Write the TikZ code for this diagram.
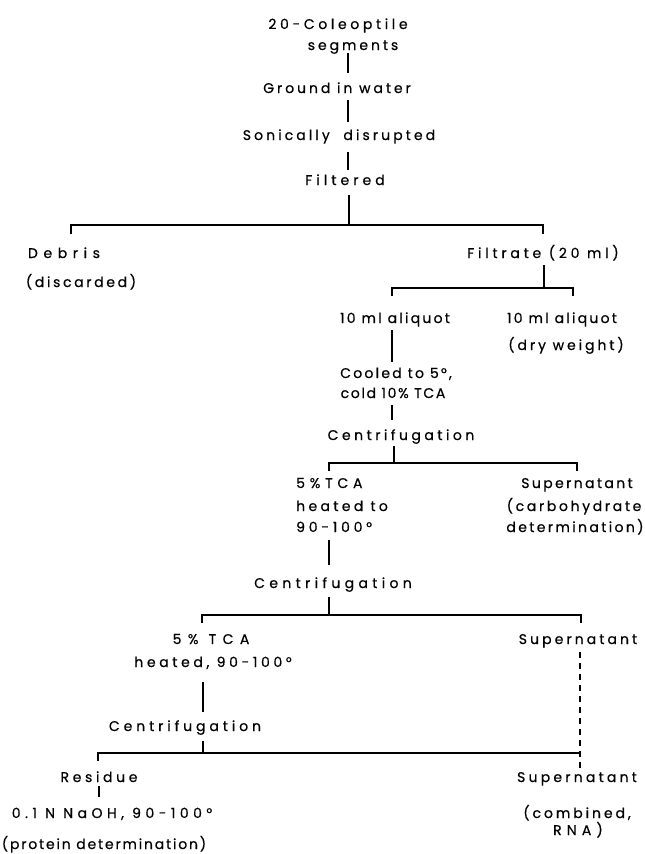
\documentclass[tikz,border=0pt]{standalone}
\usepackage{fontspec}
\setmainfont{Poppins}[FakeBold=0.6]
\newcommand{\fsz}{\fontsize{14}{16}\selectfont}
\begin{document}
\begin{tikzpicture}[x=1pt,y=-1pt,
  lbl/.style={inner sep=0pt, anchor=base, font=\fsz\addfontfeature{LetterSpace=#1}},
  lbl/.default=20,
  lblw/.style={lbl=#1, anchor=base west},
  conn/.style={line width=1.3pt},
  dconn/.style={line width=1.1pt, dash pattern=on 6pt off 5pt}]
\useasboundingbox (0,0) rectangle (645,854);
% texts
\node[lbl=26] (coleo) at (338,29) {20-Coleoptile};
\node[lbl=21] (seg) at (353,50) {segments};
\node[lbl=21] (ground) at (337,93) {Ground in water};
\node[lbl=22] (sonic) at (339,140) {Sonically\ \ disrupted};
\node[lbl=29] (filt) at (345,185) {Filtered};
\node[lbl=40] (debris) at (64,258) {Debris};
\node[lbl=19] (disc) at (81,287) {(discarded)};
\node[lbl=27] (filtrate) at (543,258) {Filtrate (20 ml)};
\node[lbl=16] (aliq1) at (395,323) {10 ml aliquot};
\node[lbl=16] (aliq2) at (562,323) {10 ml aliquot};
\node[lbl=21] (dry) at (566,350) {(dry weight)};
\node[lbl=16] (cooled) at (396,378) {Cooled to 5°,};
\node[lbl=12] (cold) at (393,398) {cold 10\% TCA};
\node[lbl=25] (cen1) at (401,440) {Centrifugation};
\node[lblw=34] (tca1) at (296,488) {5\%TCA};
\node[lblw=24] (heat1) at (296,511) {heated to};
\node[lblw=27] (deg1) at (296,532) {90-100°};
\node[lbl=17] (sup1) at (577,488) {Supernatant};
\node[lbl=19] (carbo) at (574,511) {(carbohydrate};
\node[lbl=17] (determ) at (575,532) {determination)};
\node[lbl=31] (cen2) at (333,588) {Centrifugation};
\node[lbl=46] (tca2) at (211,644) {5\% TCA};
\node[lbl=22] (sup2) at (578,644) {Supernatant};
\node[lbl=26] (heat2) at (213,667) {heated, 90-100°};
\node[lbl=28] (cen3) at (185,731) {Centrifugation};
\node[lbl=26] (resid) at (99,782) {Residue};
\node[lbl=32] (naoh) at (112,818) {0.1 N NaOH, 90-100°};
\node[lbl=13] (prot) at (104,849) {(protein determination)};
\node[lbl=23] (sup3) at (577,782) {Supernatant};
\node[lbl=21] (comb) at (577,818) {(combined,};
\node[lbl=37] (rna) at (578,835) {RNA)};
% junction coordinates
\coordinate (a1) at (348,53); \coordinate (a2) at (348,73);
\coordinate (b1) at (348,100); \coordinate (b2) at (348,122);
\coordinate (c1) at (348,152); \coordinate (c2) at (348,170);
\coordinate (d1) at (349,195); \coordinate (d2) at (349,225);
\coordinate (dl) at (71,225); \coordinate (dlt) at (71,234);
\coordinate (dr) at (543,225); \coordinate (drt) at (543,234);
\coordinate (e1) at (544,265); \coordinate (e2) at (544,288);
\coordinate (el) at (392,288); \coordinate (elt) at (392,296);
\coordinate (er) at (573,288); \coordinate (ert) at (573,296);
\coordinate (f1) at (392,330); \coordinate (f2) at (392,362);
\coordinate (g1) at (392,405); \coordinate (g2) at (392,420);
\coordinate (h1) at (394,446); \coordinate (h2) at (394,463);
\coordinate (hl) at (329,463); \coordinate (hlt) at (329,471);
\coordinate (hr) at (577,463); \coordinate (hrt) at (577,471);
\coordinate (i1) at (329,540); \coordinate (i2) at (329,565);
\coordinate (j1) at (329,597); \coordinate (j2) at (329,615);
\coordinate (jl) at (202,615); \coordinate (jlt) at (202,623);
\coordinate (jr) at (581,615); \coordinate (jrt) at (581,623);
\coordinate (k1) at (203,682); \coordinate (k2) at (203,712);
\coordinate (l1) at (203,741); \coordinate (l2) at (203,753);
\coordinate (ll) at (98,753); \coordinate (llt) at (98,761);
\coordinate (lr) at (580,753);
\coordinate (m1) at (580,652); \coordinate (m2) at (580,770);
\coordinate (n1) at (99,786); \coordinate (n2) at (99,797);
% connectors
\draw[conn] (a1) -- (a2);
\draw[conn] (b1) -- (b2);
\draw[conn] (c1) -- (c2);
\draw[conn] (d1) -- (d2);
\draw[conn] (dlt) -- (dl) -- (dr) -- (drt);
\draw[conn] (e1) -- (e2);
\draw[conn] (elt) -- (el) -- (er) -- (ert);
\draw[conn] (f1) -- (f2);
\draw[conn] (g1) -- (g2);
\draw[conn] (h1) -- (h2);
\draw[conn] (hlt) -- (hl) -- (hr) -- (hrt);
\draw[conn] (i1) -- (i2);
\draw[conn] (j1) -- (j2);
\draw[conn] (jlt) -- (jl) -- (jr) -- (jrt);
\draw[conn] (k1) -- (k2);
\draw[conn] (l1) -- (l2);
\draw[conn] (llt) -- (ll) -- (lr);
\draw[dconn] (m1) -- (m2);
\draw[conn] (n1) -- (n2);
\end{tikzpicture}
\end{document}
